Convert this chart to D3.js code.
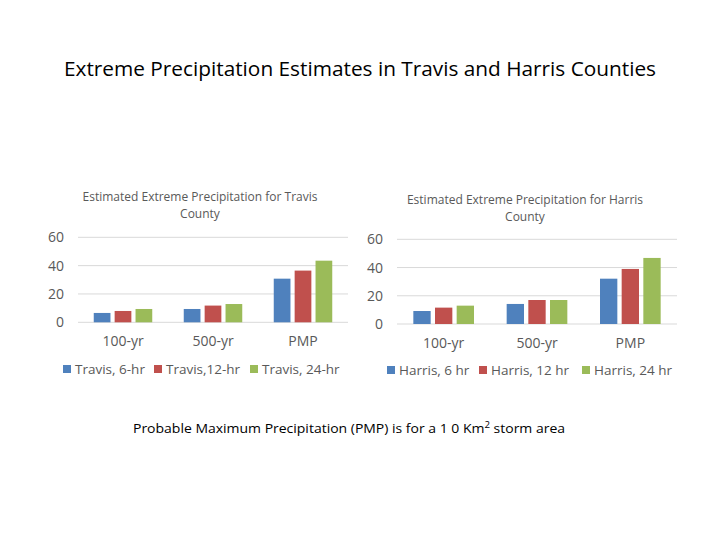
<!DOCTYPE html>
<html>
<head>
<meta charset="utf-8">
<script src="https://cdn.jsdelivr.net/npm/d3@7"></script>
<style>
  body { margin: 0; background: #fff; }
  text { font-family: "Open Sans", "Noto Sans", sans-serif; }
</style>
</head>
<body>
<svg id="chart"></svg>
<script>
// Chart data
const categories = ["100-yr", "500-yr", "PMP"];
const travisSeries = ["Travis, 6-hr", "Travis,12-hr", "Travis, 24-hr"];
const harrisSeries = ["Harris, 6 hr", "Harris, 12 hr", "Harris, 24 hr"];
const travisValues = [
    [6.6, 9.4, 30.8],   // 6-hr
    [8.0, 11.8, 36.5],  // 12-hr
    [9.4, 12.9, 43.5]   // 24-hr
];
const harrisValues = [
    [9.2, 14.2, 32.1],
    [11.6, 17.0, 39.0],
    [13.0, 17.0, 46.8]
];
const yTicks = [0, 20, 40, 60];
const seriesColors = ["#4F81BD", "#C0504D", "#9BBB59"];

const WIDTH = 720;
const HEIGHT = 540;
const TEXT_GRAY = "#595959";
const GRID_COLOR = "#d9d9d9";

const svg = d3.select("#chart")
    .attr("width", WIDTH)
    .attr("height", HEIGHT);

// Slide title
svg.append("text")
    .attr("x", 360)
    .attr("y", 76)
    .attr("text-anchor", "middle")
    .attr("font-size", 20)
    .attr("fill", "#000")
    .attr("textLength", 592)
    .attr("lengthAdjust", "spacingAndGlyphs")
    .text("Extreme Precipitation Estimates in Travis and Harris Counties");

// Draw one clustered bar chart
function drawChart(opts) {
    const g = svg.append("g");
    const x = d3.scaleBand()
        .domain(categories)
        .range([opts.left, opts.right])
        .paddingInner(0.35)
        .paddingOuter(0.175);
    const xInner = d3.scaleBand()
        .domain(d3.range(opts.series.length))
        .range([0, x.bandwidth()])
        .paddingInner(0.2);
    const y = d3.scaleLinear()
        .domain([0, 60])
        .range([opts.bottom, opts.top]);

    // Title (two lines)
    opts.title.forEach((line, i) => {
        g.append("text")
            .attr("x", opts.titleX)
            .attr("y", opts.titleY + i * 17)
            .attr("text-anchor", "middle")
            .attr("font-size", 12)
            .attr("fill", TEXT_GRAY)
            .text(line);
    });

    // Gridlines
    g.selectAll(".grid")
        .data(yTicks)
        .enter().append("line")
        .attr("x1", opts.left)
        .attr("x2", opts.right)
        .attr("y1", d => y(d))
        .attr("y2", d => y(d))
        .attr("stroke", GRID_COLOR)
        .attr("stroke-width", 1);

    // Y axis labels
    const yAxis = d3.axisLeft(y).tickValues(yTicks).tickSize(0).tickPadding(0);
    const ya = g.append("g")
        .attr("transform", `translate(${opts.left - 14},0)`)
        .call(yAxis);
    ya.select(".domain").remove();
    ya.selectAll("text")
        .attr("font-size", 14)
        .attr("fill", TEXT_GRAY)
        .style("font-family", "'Open Sans', sans-serif");

    // Bars
    opts.values.forEach((vals, s) => {
        g.selectAll(".bar" + s)
            .data(vals)
            .enter().append("rect")
            .attr("x", (d, i) => x(categories[i]) + xInner(s))
            .attr("y", d => y(d))
            .attr("width", xInner.bandwidth())
            .attr("height", d => y(0) - y(d))
            .attr("fill", seriesColors[s]);
    });

    // X axis labels
    const xAxis = d3.axisBottom(x).tickSize(0).tickPadding(14);
    const xa = g.append("g")
        .attr("transform", `translate(0,${opts.bottom})`)
        .call(xAxis);
    xa.select(".domain").remove();
    xa.selectAll("text")
        .attr("font-size", 14)
        .attr("fill", TEXT_GRAY)
        .style("font-family", "'Open Sans', sans-serif");

    // Legend
    opts.series.forEach((name, s) => {
        g.append("rect")
            .attr("x", opts.legendX[s])
            .attr("y", opts.legendY - 5)
            .attr("width", 8)
            .attr("height", 8)
            .attr("fill", seriesColors[s]);
        g.append("text")
            .attr("x", opts.legendX[s] + 12)
            .attr("y", opts.legendY + 4)
            .attr("font-size", 13.5)
            .attr("fill", TEXT_GRAY)
            .text(name);
    });
}

drawChart({
    left: 78, right: 348, top: 237.3, bottom: 322.3,
    title: ["Estimated Extreme Precipitation for Travis", "County"],
    titleX: 200, titleY: 201,
    series: travisSeries, values: travisValues,
    legendX: [63, 154, 250], legendY: 370
});

drawChart({
    left: 397, right: 677, top: 239.3, bottom: 324,
    title: ["Estimated Extreme Precipitation for Harris", "County"],
    titleX: 525, titleY: 204,
    series: harrisSeries, values: harrisValues,
    legendX: [387, 479, 582], legendY: 371
});

// Footnote
const note = svg.append("text")
    .attr("x", 133)
    .attr("y", 433)
    .attr("font-size", 13)
    .attr("fill", "#000")
    .attr("textLength", 432)
    .attr("lengthAdjust", "spacingAndGlyphs");
note.append("tspan").text("Probable Maximum Precipitation (PMP) is for a 1 0 Km");
note.append("tspan").attr("dy", -5).attr("font-size", 9).text("2");
note.append("tspan").attr("dy", 5).text(" storm area");
</script>
</body>
</html>
